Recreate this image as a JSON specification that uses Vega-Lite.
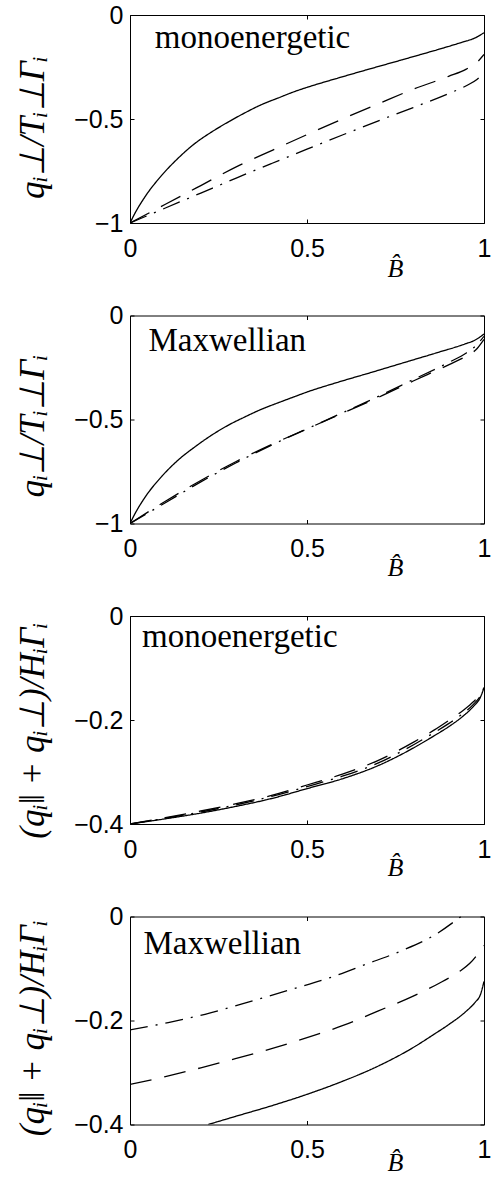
{
  "$schema": "https://vega.github.io/schema/vega-lite/v6.json",
  "background": "white",
  "padding": {"left": 14, "top": 2, "right": 5, "bottom": 5},
  "bounds": "flush",
  "spacing": 92.5,
  "config": {
    "view": {"stroke": "black", "strokeWidth": 1},
    "axis": {"grid": false, "domain": false, "ticks": true, "tickColor": "black", "tickSize": -4, "tickWidth": 1, "labelColor": "black", "labelFont": "Liberation Sans", "labelFontSize": 25, "labelFlush": false, "labelOverlap": false, "titleColor": "black"}
  },
  "datasets": {
    "p1": [
      {"B": 0, "v": -1, "s": "solid"}, {"B": 0.015, "v": -0.95, "s": "solid"}, {"B": 0.04, "v": -0.88, "s": "solid"}, {"B": 0.09, "v": -0.77, "s": "solid"}, {"B": 0.135, "v": -0.69, "s": "solid"}, {"B": 0.18, "v": -0.622, "s": "solid"}, {"B": 0.23, "v": -0.563, "s": "solid"}, {"B": 0.28, "v": -0.512, "s": "solid"}, {"B": 0.325, "v": -0.47, "s": "solid"}, {"B": 0.37, "v": -0.432, "s": "solid"}, {"B": 0.42, "v": -0.398, "s": "solid"}, {"B": 0.465, "v": -0.368, "s": "solid"}, {"B": 0.5, "v": -0.348, "s": "solid"}, {"B": 0.59, "v": -0.302, "s": "solid"}, {"B": 0.68, "v": -0.258, "s": "solid"}, {"B": 0.78, "v": -0.21, "s": "solid"}, {"B": 0.87, "v": -0.166, "s": "solid"}, {"B": 0.94, "v": -0.13, "s": "solid"}, {"B": 0.975, "v": -0.11, "s": "solid"}, {"B": 1, "v": -0.085, "s": "solid"},
      {"B": 0, "v": -1, "s": "dashed"}, {"B": 0.1, "v": -0.91, "s": "dashed"}, {"B": 0.2, "v": -0.82, "s": "dashed"}, {"B": 0.3, "v": -0.73, "s": "dashed"}, {"B": 0.4, "v": -0.652, "s": "dashed"}, {"B": 0.5, "v": -0.575, "s": "dashed"}, {"B": 0.6, "v": -0.5, "s": "dashed"}, {"B": 0.7, "v": -0.428, "s": "dashed"}, {"B": 0.8, "v": -0.357, "s": "dashed"}, {"B": 0.9, "v": -0.295, "s": "dashed"}, {"B": 0.95, "v": -0.26, "s": "dashed"}, {"B": 0.98, "v": -0.228, "s": "dashed"}, {"B": 1, "v": -0.19, "s": "dashed"},
      {"B": 0, "v": -1, "s": "dashdot"}, {"B": 0.1, "v": -0.928, "s": "dashdot"}, {"B": 0.2, "v": -0.856, "s": "dashdot"}, {"B": 0.3, "v": -0.784, "s": "dashdot"}, {"B": 0.4, "v": -0.714, "s": "dashdot"}, {"B": 0.5, "v": -0.645, "s": "dashdot"}, {"B": 0.6, "v": -0.577, "s": "dashdot"}, {"B": 0.7, "v": -0.51, "s": "dashdot"}, {"B": 0.8, "v": -0.445, "s": "dashdot"}, {"B": 0.9, "v": -0.378, "s": "dashdot"}, {"B": 0.95, "v": -0.34, "s": "dashdot"}, {"B": 0.98, "v": -0.31, "s": "dashdot"}, {"B": 1, "v": -0.278, "s": "dashdot"}
    ],
    "p2": [
      {"B": 0, "v": -1, "s": "solid"}, {"B": 0.015, "v": -0.95, "s": "solid"}, {"B": 0.04, "v": -0.88, "s": "solid"}, {"B": 0.09, "v": -0.773, "s": "solid"}, {"B": 0.136, "v": -0.695, "s": "solid"}, {"B": 0.183, "v": -0.632, "s": "solid"}, {"B": 0.23, "v": -0.576, "s": "solid"}, {"B": 0.277, "v": -0.528, "s": "solid"}, {"B": 0.324, "v": -0.488, "s": "solid"}, {"B": 0.371, "v": -0.451, "s": "solid"}, {"B": 0.418, "v": -0.42, "s": "solid"}, {"B": 0.465, "v": -0.39, "s": "solid"}, {"B": 0.5, "v": -0.368, "s": "solid"}, {"B": 0.589, "v": -0.32, "s": "solid"}, {"B": 0.683, "v": -0.273, "s": "solid"}, {"B": 0.777, "v": -0.225, "s": "solid"}, {"B": 0.871, "v": -0.177, "s": "solid"}, {"B": 0.946, "v": -0.137, "s": "solid"}, {"B": 0.975, "v": -0.118, "s": "solid"}, {"B": 1, "v": -0.089, "s": "solid"},
      {"B": 0, "v": -1, "s": "dashed"}, {"B": 0.1, "v": -0.893, "s": "dashed"}, {"B": 0.2, "v": -0.793, "s": "dashed"}, {"B": 0.3, "v": -0.702, "s": "dashed"}, {"B": 0.4, "v": -0.62, "s": "dashed"}, {"B": 0.5, "v": -0.545, "s": "dashed"}, {"B": 0.6, "v": -0.47, "s": "dashed"}, {"B": 0.7, "v": -0.395, "s": "dashed"}, {"B": 0.8, "v": -0.315, "s": "dashed"}, {"B": 0.9, "v": -0.237, "s": "dashed"}, {"B": 0.95, "v": -0.195, "s": "dashed"}, {"B": 0.98, "v": -0.16, "s": "dashed"}, {"B": 1, "v": -0.115, "s": "dashed"},
      {"B": 0, "v": -1, "s": "dashdot"}, {"B": 0.1, "v": -0.9, "s": "dashdot"}, {"B": 0.2, "v": -0.8, "s": "dashdot"}, {"B": 0.3, "v": -0.708, "s": "dashdot"}, {"B": 0.4, "v": -0.623, "s": "dashdot"}, {"B": 0.5, "v": -0.545, "s": "dashdot"}, {"B": 0.6, "v": -0.468, "s": "dashdot"}, {"B": 0.7, "v": -0.39, "s": "dashdot"}, {"B": 0.8, "v": -0.308, "s": "dashdot"}, {"B": 0.9, "v": -0.226, "s": "dashdot"}, {"B": 0.95, "v": -0.18, "s": "dashdot"}, {"B": 0.98, "v": -0.14, "s": "dashdot"}, {"B": 1, "v": -0.1, "s": "dashdot"}
    ],
    "p3": [
      {"B": 0, "v": -0.4, "s": "solid"}, {"B": 0.1, "v": -0.39, "s": "solid"}, {"B": 0.2, "v": -0.379, "s": "solid"}, {"B": 0.3, "v": -0.366, "s": "solid"}, {"B": 0.4, "v": -0.351, "s": "solid"}, {"B": 0.5, "v": -0.332, "s": "solid"}, {"B": 0.6, "v": -0.313, "s": "solid"}, {"B": 0.7, "v": -0.288, "s": "solid"}, {"B": 0.8, "v": -0.254, "s": "solid"}, {"B": 0.86, "v": -0.23, "s": "solid"}, {"B": 0.9, "v": -0.213, "s": "solid"}, {"B": 0.94, "v": -0.193, "s": "solid"}, {"B": 0.97, "v": -0.174, "s": "solid"}, {"B": 0.99, "v": -0.156, "s": "solid"}, {"B": 1, "v": -0.138, "s": "solid"},
      {"B": 0, "v": -0.4, "s": "dashed"}, {"B": 0.1, "v": -0.388, "s": "dashed"}, {"B": 0.2, "v": -0.375, "s": "dashed"}, {"B": 0.3, "v": -0.361, "s": "dashed"}, {"B": 0.4, "v": -0.345, "s": "dashed"}, {"B": 0.5, "v": -0.325, "s": "dashed"}, {"B": 0.6, "v": -0.304, "s": "dashed"}, {"B": 0.7, "v": -0.278, "s": "dashed"}, {"B": 0.8, "v": -0.243, "s": "dashed"}, {"B": 0.86, "v": -0.219, "s": "dashed"}, {"B": 0.9, "v": -0.201, "s": "dashed"}, {"B": 0.94, "v": -0.182, "s": "dashed"}, {"B": 0.97, "v": -0.165, "s": "dashed"}, {"B": 0.99, "v": -0.15, "s": "dashed"}, {"B": 1, "v": -0.138, "s": "dashed"},
      {"B": 0, "v": -0.4, "s": "dashdot"}, {"B": 0.1, "v": -0.389, "s": "dashdot"}, {"B": 0.2, "v": -0.377, "s": "dashdot"}, {"B": 0.3, "v": -0.363, "s": "dashdot"}, {"B": 0.4, "v": -0.347, "s": "dashdot"}, {"B": 0.5, "v": -0.328, "s": "dashdot"}, {"B": 0.6, "v": -0.308, "s": "dashdot"}, {"B": 0.7, "v": -0.283, "s": "dashdot"}, {"B": 0.8, "v": -0.248, "s": "dashdot"}, {"B": 0.86, "v": -0.224, "s": "dashdot"}, {"B": 0.9, "v": -0.207, "s": "dashdot"}, {"B": 0.94, "v": -0.188, "s": "dashdot"}, {"B": 0.97, "v": -0.17, "s": "dashdot"}, {"B": 0.99, "v": -0.153, "s": "dashdot"}, {"B": 1, "v": -0.138, "s": "dashdot"}
    ],
    "p4": [
      {"B": 0.221, "v": -0.4, "s": "solid"}, {"B": 0.3, "v": -0.384, "s": "solid"}, {"B": 0.4, "v": -0.364, "s": "solid"}, {"B": 0.5, "v": -0.342, "s": "solid"}, {"B": 0.6, "v": -0.317, "s": "solid"}, {"B": 0.7, "v": -0.288, "s": "solid"}, {"B": 0.8, "v": -0.252, "s": "solid"}, {"B": 0.86, "v": -0.226, "s": "solid"}, {"B": 0.9, "v": -0.208, "s": "solid"}, {"B": 0.95, "v": -0.182, "s": "solid"}, {"B": 0.975, "v": -0.165, "s": "solid"}, {"B": 0.99, "v": -0.15, "s": "solid"}, {"B": 1, "v": -0.125, "s": "solid"},
      {"B": 0, "v": -0.323, "s": "dashed"}, {"B": 0.1, "v": -0.308, "s": "dashed"}, {"B": 0.2, "v": -0.291, "s": "dashed"}, {"B": 0.3, "v": -0.273, "s": "dashed"}, {"B": 0.4, "v": -0.254, "s": "dashed"}, {"B": 0.5, "v": -0.233, "s": "dashed"}, {"B": 0.6, "v": -0.21, "s": "dashed"}, {"B": 0.7, "v": -0.182, "s": "dashed"}, {"B": 0.8, "v": -0.153, "s": "dashed"}, {"B": 0.88, "v": -0.126, "s": "dashed"}, {"B": 0.93, "v": -0.106, "s": "dashed"}, {"B": 0.96, "v": -0.09, "s": "dashed"}, {"B": 0.985, "v": -0.07, "s": "dashed"}, {"B": 1, "v": -0.056, "s": "dashed"},
      {"B": 0, "v": -0.218, "s": "dashdot"}, {"B": 0.108, "v": -0.204, "s": "dashdot"}, {"B": 0.212, "v": -0.188, "s": "dashdot"}, {"B": 0.353, "v": -0.161, "s": "dashdot"}, {"B": 0.457, "v": -0.14, "s": "dashdot"}, {"B": 0.563, "v": -0.118, "s": "dashdot"}, {"B": 0.666, "v": -0.092, "s": "dashdot"}, {"B": 0.763, "v": -0.067, "s": "dashdot"}, {"B": 0.862, "v": -0.035, "s": "dashdot"}, {"B": 0.935, "v": 0, "s": "dashdot"}
    ]
  },
  "vconcat": [
    {
      "width": 354, "height": 208,
      "resolve": {"axis": {"x": "independent", "y": "independent"}},
      "layer": [
        {
          "data": {"name": "p1"},
          "mark": {"type": "line", "color": "black", "strokeWidth": 1.3, "interpolate": "monotone", "clip": true},
          "encoding": {
            "x": {"field": "B", "type": "quantitative", "scale": {"domain": [0, 1], "nice": false, "zero": false}, "axis": {"orient": "bottom", "values": [0, 0.5, 1], "format": "~g", "labelPadding": 17, "title": "B̂", "titleFont": "Liberation Serif", "titleFontStyle": "italic", "titleFontWeight": "normal", "titleFontSize": 26, "titleX": 265, "titleY": 53, "titleBaseline": "alphabetic", "titleAlign": "center"}},
            "y": {"field": "v", "type": "quantitative", "scale": {"domain": [-1, 0], "nice": false, "zero": false}, "axis": {"orient": "left", "values": [-1, -0.5, 0], "format": "~g", "labelPadding": 11, "title": "qᵢ⊥/Tᵢ⊥Γᵢ", "titleFont": "Liberation Serif", "titleFontStyle": "italic", "titleFontWeight": "normal", "titleFontSize": 35, "titleX": -87, "titleY": 112, "titleAngle": -90, "titleBaseline": "alphabetic", "titleAlign": "center"}},
            "strokeDash": {"field": "s", "type": "nominal", "scale": {"domain": ["solid", "dashed", "dashdot"], "range": [[1, 0], [22, 13], [18, 8, 2, 8]]}, "legend": null}
          }
        },
        {
          "data": {"values": [{"label": "monoenergetic"}]},
          "mark": {"type": "text", "font": "Liberation Serif", "fontSize": 33, "align": "left", "baseline": "alphabetic", "color": "black"},
          "encoding": {
            "text": {"field": "label"},
            "x": {"datum": 0.07, "type": "quantitative", "scale": {"domain": [0, 1], "nice": false, "zero": false}, "axis": {"orient": "top", "values": [0, 0.5, 1], "labels": false, "title": null}},
            "y": {"datum": -0.16, "type": "quantitative", "scale": {"domain": [-1, 0], "nice": false, "zero": false}, "axis": {"orient": "right", "values": [-1, -0.5, 0], "labels": false, "title": null}}
          }
        }
      ]
    },
    {
      "width": 354, "height": 208,
      "resolve": {"axis": {"x": "independent", "y": "independent"}},
      "layer": [
        {
          "data": {"name": "p2"},
          "mark": {"type": "line", "color": "black", "strokeWidth": 1.3, "interpolate": "monotone", "clip": true},
          "encoding": {
            "x": {"field": "B", "type": "quantitative", "scale": {"domain": [0, 1], "nice": false, "zero": false}, "axis": {"orient": "bottom", "values": [0, 0.5, 1], "format": "~g", "labelPadding": 17, "title": "B̂", "titleFont": "Liberation Serif", "titleFontStyle": "italic", "titleFontWeight": "normal", "titleFontSize": 26, "titleX": 265, "titleY": 52, "titleBaseline": "alphabetic", "titleAlign": "center"}},
            "y": {"field": "v", "type": "quantitative", "scale": {"domain": [-1, 0], "nice": false, "zero": false}, "axis": {"orient": "left", "values": [-1, -0.5, 0], "format": "~g", "labelPadding": 11, "title": "qᵢ⊥/Tᵢ⊥Γᵢ", "titleFont": "Liberation Serif", "titleFontStyle": "italic", "titleFontWeight": "normal", "titleFontSize": 35, "titleX": -87, "titleY": 110, "titleAngle": -90, "titleBaseline": "alphabetic", "titleAlign": "center"}},
            "strokeDash": {"field": "s", "type": "nominal", "scale": {"domain": ["solid", "dashed", "dashdot"], "range": [[1, 0], [22, 13], [18, 8, 2, 8]]}, "legend": null}
          }
        },
        {
          "data": {"values": [{"label": "Maxwellian"}]},
          "mark": {"type": "text", "font": "Liberation Serif", "fontSize": 33, "align": "left", "baseline": "alphabetic", "color": "black"},
          "encoding": {
            "text": {"field": "label"},
            "x": {"datum": 0.052, "type": "quantitative", "scale": {"domain": [0, 1], "nice": false, "zero": false}, "axis": {"orient": "top", "values": [0, 0.5, 1], "labels": false, "title": null}},
            "y": {"datum": -0.172, "type": "quantitative", "scale": {"domain": [-1, 0], "nice": false, "zero": false}, "axis": {"orient": "right", "values": [-1, -0.5, 0], "labels": false, "title": null}}
          }
        }
      ]
    },
    {
      "width": 354, "height": 208,
      "resolve": {"axis": {"x": "independent", "y": "independent"}},
      "layer": [
        {
          "data": {"name": "p3"},
          "mark": {"type": "line", "color": "black", "strokeWidth": 1.3, "interpolate": "monotone", "clip": true},
          "encoding": {
            "x": {"field": "B", "type": "quantitative", "scale": {"domain": [0, 1], "nice": false, "zero": false}, "axis": {"orient": "bottom", "values": [0, 0.5, 1], "format": "~g", "labelPadding": 17, "title": "B̂", "titleFont": "Liberation Serif", "titleFontStyle": "italic", "titleFontWeight": "normal", "titleFontSize": 26, "titleX": 265, "titleY": 51, "titleBaseline": "alphabetic", "titleAlign": "center"}},
            "y": {"field": "v", "type": "quantitative", "scale": {"domain": [-0.4, 0], "nice": false, "zero": false}, "axis": {"orient": "left", "values": [-0.4, -0.2, 0], "format": "~g", "labelPadding": 11, "title": "(qᵢ‖ + qᵢ⊥)/HᵢΓᵢ", "titleFont": "Liberation Serif", "titleFontStyle": "italic", "titleFontWeight": "normal", "titleFontSize": 35, "titleX": -87, "titleY": 114, "titleAngle": -90, "titleBaseline": "alphabetic", "titleAlign": "center"}},
            "strokeDash": {"field": "s", "type": "nominal", "scale": {"domain": ["solid", "dashed", "dashdot"], "range": [[1, 0], [22, 13], [18, 8, 2, 8]]}, "legend": null}
          }
        },
        {
          "data": {"values": [{"label": "monoenergetic"}]},
          "mark": {"type": "text", "font": "Liberation Serif", "fontSize": 33, "align": "left", "baseline": "alphabetic", "color": "black"},
          "encoding": {
            "text": {"field": "label"},
            "x": {"datum": 0.034, "type": "quantitative", "scale": {"domain": [0, 1], "nice": false, "zero": false}, "axis": {"orient": "top", "values": [0, 0.5, 1], "labels": false, "title": null}},
            "y": {"datum": -0.06, "type": "quantitative", "scale": {"domain": [-0.4, 0], "nice": false, "zero": false}, "axis": {"orient": "right", "values": [-0.4, -0.2, 0], "labels": false, "title": null}}
          }
        }
      ]
    },
    {
      "width": 354, "height": 208,
      "resolve": {"axis": {"x": "independent", "y": "independent"}},
      "layer": [
        {
          "data": {"name": "p4"},
          "mark": {"type": "line", "color": "black", "strokeWidth": 1.3, "interpolate": "monotone", "clip": true},
          "encoding": {
            "x": {"field": "B", "type": "quantitative", "scale": {"domain": [0, 1], "nice": false, "zero": false}, "axis": {"orient": "bottom", "values": [0, 0.5, 1], "format": "~g", "labelPadding": 17, "title": "B̂", "titleFont": "Liberation Serif", "titleFontStyle": "italic", "titleFontWeight": "normal", "titleFontSize": 26, "titleX": 265, "titleY": 46, "titleBaseline": "alphabetic", "titleAlign": "center"}},
            "y": {"field": "v", "type": "quantitative", "scale": {"domain": [-0.4, 0], "nice": false, "zero": false}, "axis": {"orient": "left", "values": [-0.4, -0.2, 0], "format": "~g", "labelPadding": 11, "title": "(qᵢ‖ + qᵢ⊥)/HᵢΓᵢ", "titleFont": "Liberation Serif", "titleFontStyle": "italic", "titleFontWeight": "normal", "titleFontSize": 35, "titleX": -87, "titleY": 111, "titleAngle": -90, "titleBaseline": "alphabetic", "titleAlign": "center"}},
            "strokeDash": {"field": "s", "type": "nominal", "scale": {"domain": ["solid", "dashed", "dashdot"], "range": [[1, 0], [22, 13], [18, 8, 2, 8]]}, "legend": null}
          }
        },
        {
          "data": {"values": [{"label": "Maxwellian"}]},
          "mark": {"type": "text", "font": "Liberation Serif", "fontSize": 33, "align": "left", "baseline": "alphabetic", "color": "black"},
          "encoding": {
            "text": {"field": "label"},
            "x": {"datum": 0.038, "type": "quantitative", "scale": {"domain": [0, 1], "nice": false, "zero": false}, "axis": {"orient": "top", "values": [0, 0.5, 1], "labels": false, "title": null}},
            "y": {"datum": -0.073, "type": "quantitative", "scale": {"domain": [-0.4, 0], "nice": false, "zero": false}, "axis": {"orient": "right", "values": [-0.4, -0.2, 0], "labels": false, "title": null}}
          }
        }
      ]
    }
  ]
}
